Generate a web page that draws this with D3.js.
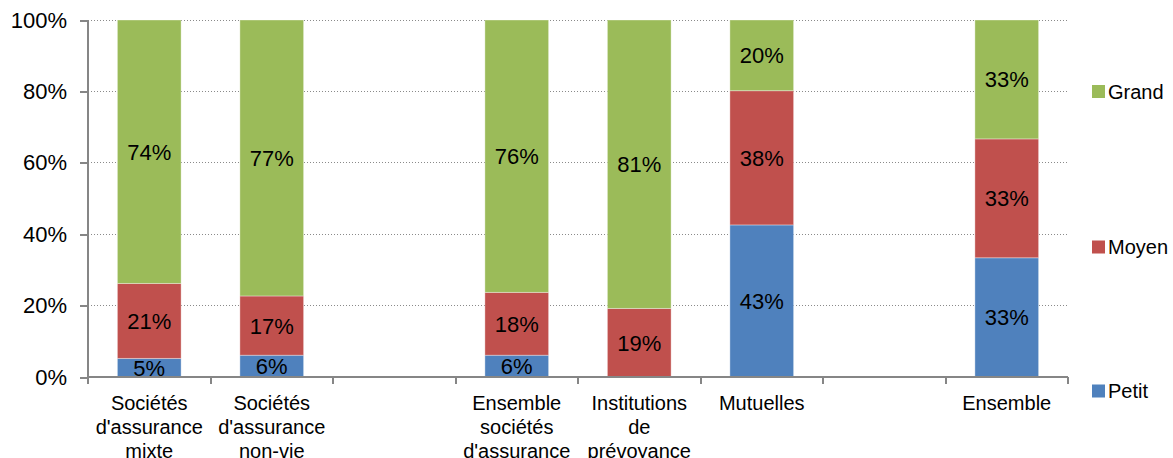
<!DOCTYPE html>
<meta charset="utf-8">
<style>
body { margin: 0; background: #fff; }
svg { font-family: "Liberation Sans", Arial, sans-serif; }
.grid line { stroke: #8a8a8a; stroke-dasharray: 1 2; shape-rendering: crispEdges; }
.axis path, .axis line { stroke: #868686; stroke-width: 2; shape-rendering: crispEdges; }
.axis text { fill: #000; }
</style>
<body>
<div id="chart"></div>
<script src="https://cdnjs.cloudflare.com/ajax/libs/d3/7.8.5/d3.min.js"></script>
<script>
// categories (empty arrays = empty slots in the original chart)
var categories = [
  ["Sociétés", "d'assurance", "mixte"],
  ["Sociétés", "d'assurance", "non-vie"],
  [],
  ["Ensemble", "sociétés", "d'assurance"],
  ["Institutions", "de", "prévoyance"],
  ["Mutuelles"],
  [],
  ["Ensemble"]
];
var petit = [5.2, 6.1, null, 6.1, 0, 42.6, null, 33.4];
var moyen = [21.0, 16.6, null, 17.6, 19.2, 37.6, null, 33.3];
var grand = [73.8, 77.3, null, 76.3, 80.8, 19.8, null, 33.3];
var seriesNames = ["Petit", "Moyen", "Grand"];
var seriesColors = ["#4F81BD", "#C0504D", "#9BBB59"];
var yTicks = [0, 20, 40, 60, 80, 100];

var W = 1173, H = 458,
    margin = {top: 20, left: 88, right: 105, bottom: 81},
    width = W - margin.left - margin.right,
    height = H - margin.top - margin.bottom;

var svg = d3.select("#chart").append("svg")
    .attr("width", W).attr("height", H)
  .append("g")
    .attr("transform", "translate(" + margin.left + "," + margin.top + ")");

var x = d3.scaleBand().domain(d3.range(categories.length)).range([0, width])
    .paddingInner(0.48).paddingOuter(0.24);
var y = d3.scaleLinear().domain([0, 100]).range([height, 0]);

// grid
svg.append("g").attr("class", "grid")
  .selectAll("line").data(yTicks.filter(function(d) { return d > 0; }))
  .enter().append("line")
    .attr("x1", 0).attr("x2", width)
    .attr("y1", function(d) { return y(d); }).attr("y2", function(d) { return y(d); });

var data = categories.map(function(c, i) {
  return {i: i, Petit: petit[i] || 0, Moyen: moyen[i] || 0, Grand: grand[i] || 0, empty: petit[i] == null};
});
var layers = d3.stack().keys(seriesNames)(data);

var layer = svg.selectAll(".layer").data(layers).enter().append("g")
    .attr("class", "layer")
    .attr("fill", function(d, i) { return seriesColors[i]; });

layer.selectAll("rect")
    .data(function(d) { return d.filter(function(p) { return !p.data.empty && p[1] - p[0] > 0; }); })
  .enter().append("rect")
    .attr("x", function(d) { return x(d.data.i); })
    .attr("width", x.bandwidth())
    .attr("y", function(d) { return y(d[1]); })
    .attr("height", function(d) { return y(d[0]) - y(d[1]); })
    .attr("stroke", "rgba(255,255,255,0.35)").attr("stroke-width", 1);

layer.selectAll("text")
    .data(function(d) { return d.filter(function(p) { return !p.data.empty && p[1] - p[0] > 0; }); })
  .enter().append("text")
    .attr("x", function(d) { return x(d.data.i) + x.bandwidth() / 2; })
    .attr("y", function(d) { return (y(d[0]) + y(d[1])) / 2; })
    .attr("dy", "0.36em")
    .attr("text-anchor", "middle")
    .attr("fill", "#000")
    .style("font-size", "22px")
    .text(function(d) { return Math.round(d[1] - d[0]) + "%"; });

// y axis
var yAxis = svg.append("g").attr("class", "axis")
    .call(d3.axisLeft(y).tickValues(yTicks).tickSize(8).tickPadding(13)
      .tickFormat(function(d) { return d + "%"; }));
yAxis.selectAll("text").style("font-size", "22px");
yAxis.select(".domain").attr("d", "M0," + height + "V0");

// x axis with ticks at band boundaries
var xg = svg.append("g").attr("class", "axis")
    .attr("transform", "translate(0," + height + ")");
xg.append("line").attr("x1", 0).attr("x2", width);
xg.selectAll(".tk").data(d3.range(categories.length + 1)).enter().append("line")
    .attr("x1", function(d) { return d * width / categories.length; })
    .attr("x2", function(d) { return d * width / categories.length; })
    .attr("y1", 0).attr("y2", 7);

xg.selectAll(".cat").data(categories).enter().append("text")
    .attr("text-anchor", "middle")
    .style("font-size", "20px")
    .attr("transform", function(d, i) { return "translate(" + (x(i) + x.bandwidth() / 2) + ",33)"; })
  .selectAll("tspan").data(function(d) { return d; }).enter().append("tspan")
    .attr("x", 0)
    .attr("y", function(d, j) { return j * 24; })
    .text(function(d) { return d; });

// legend (Grand on top, Petit at bottom)
var legendY = [391, 247, 91.5];
var legend = svg.selectAll(".legend").data(seriesNames).enter().append("g")
    .attr("transform", function(d, i) { return "translate(" + (1092 - margin.left) + "," + (legendY[i] - margin.top) + ")"; });
legend.append("rect").attr("x", 0).attr("y", -6.5).attr("width", 13).attr("height", 13)
    .attr("fill", function(d, i) { return seriesColors[i]; });
legend.append("text").attr("x", 16).attr("dy", "0.36em")
    .style("font-size", "20px")
    .text(function(d) { return d; });
</script>
</body>
